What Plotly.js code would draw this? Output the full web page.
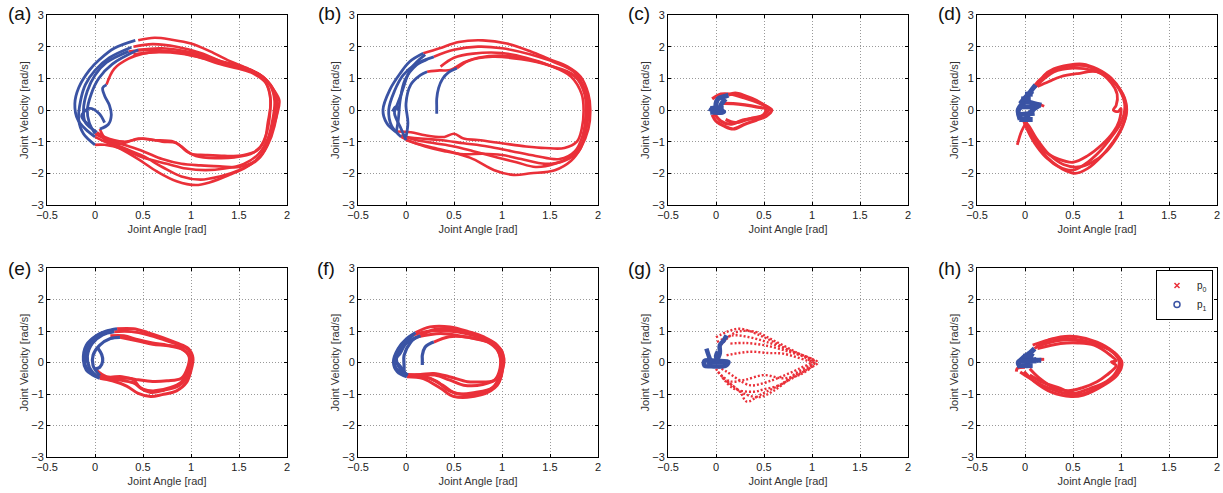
<!DOCTYPE html>
<html><head><meta charset="utf-8">
<script src="https://cdn.plot.ly/plotly-3.0.1.min.js"></script>
<style>html,body{margin:0;padding:0;background:#fff}#chart{width:1223px;height:493px}</style>
</head><body><div id="chart"></div>
<script>
// ---- data: [joint angle (rad), joint velocity (rad/s)] points, null separates cycles ----
const panelLabels = ["(a)","(b)","(c)","(d)","(e)","(f)","(g)","(h)"];
const xTicks = [-0.5,0,0.5,1,1.5,2];
const yTicks = [-3,-2,-1,0,1,2,3];
const seriesNames = ["p<sub>0</sub>","p<sub>1</sub>"];

const a_p0 = [[0.45,2.2],[0.62,2.28],[0.8,2.22],[1.0,2.1],[1.2,1.85],[1.4,1.55],[1.6,1.3],[1.75,1.05],[1.87,0.6],[1.92,0.3],[1.9,-0.1],[1.85,-0.6],[1.8,-1.0],[1.72,-1.45],[1.58,-1.8],[1.4,-2.05],[1.2,-2.28],[1.05,-2.37],[0.85,-2.25],[0.65,-1.95],[0.45,-1.55],[0.25,-1.2],[0.1,-1.0],[0.0,-0.85],null,
 [0.4,2.0],[0.6,2.08],[0.85,2.0],[1.1,1.8],[1.35,1.5],[1.55,1.32],[1.7,1.15],[1.82,0.8],[1.87,0.3],[1.85,-0.3],[1.8,-0.9],[1.7,-1.4],[1.55,-1.7],[1.35,-1.85],[1.15,-1.9],[0.95,-1.85],[0.75,-1.7],[0.5,-1.5],[0.3,-1.25],[0.1,-1.1],[0.0,-1.1],null,
 [0.35,1.85],[0.55,1.9],[0.8,1.85],[1.05,1.7],[1.3,1.45],[1.5,1.3],[1.65,1.15],[1.78,0.85],[1.83,0.3],[1.8,-0.4],[1.76,-1.0],[1.65,-1.35],[1.45,-1.5],[1.25,-1.52],[1.05,-1.45],[0.95,-1.3],[0.85,-1.05],[0.7,-1.0],[0.5,-0.9],[0.3,-1.0],[0.1,-0.85],[0.02,-0.7],null,
 [0.12,0.8],[0.2,1.3],[0.35,1.62],[0.5,1.78],[0.7,1.85],[0.95,1.8],[1.2,1.6],[1.45,1.4],[1.65,1.22],[1.8,0.9],[1.88,0.4],[1.87,-0.2],[1.83,-0.7],[1.78,-1.2],[1.68,-1.6],[1.5,-1.9],[1.3,-2.1],[1.1,-2.2],[0.9,-2.1],[0.7,-1.8],[0.5,-1.45],[0.3,-1.2],[0.12,-0.95],[0.05,-0.6],null,
 [0.45,1.9],[0.7,1.95],[1.0,1.82],[1.3,1.55],[1.55,1.35],[1.72,1.1],[1.85,0.7],[1.9,0.2],[1.87,-0.5],[1.8,-1.1],[1.7,-1.55],[1.5,-1.8],[1.3,-1.78],[1.1,-1.75],[0.9,-1.7],[0.7,-1.55],[0.5,-1.3],[0.3,-1.1],[0.1,-0.9],[0.0,-0.75],null,
 [0.4,1.75],[0.6,1.82],[0.9,1.78],[1.15,1.62],[1.4,1.42],[1.6,1.28],[1.75,1.0],[1.82,0.5],[1.82,-0.2],[1.78,-0.8],[1.7,-1.25],[1.55,-1.42],[1.35,-1.45],[1.15,-1.42],[1.0,-1.38],[0.9,-1.15],[0.82,-1.0],[0.6,-0.95],[0.45,-0.9],[0.3,-1.05],[0.15,-1.05],[0.05,-0.75]];
const a_p1 = [[0.0,-0.85],[-0.1,-0.6],[-0.18,-0.3],[-0.21,0.2],[-0.17,0.7],[-0.06,1.25],[0.05,1.6],[0.2,1.95],[0.42,2.2],null,
 [0.0,-1.1],[-0.12,-0.75],[-0.17,-0.3],[-0.15,0.3],[-0.1,0.8],[0.0,1.25],[0.15,1.65],[0.38,1.98],null,
 [0.02,-0.7],[-0.1,-0.4],[-0.12,0.0],[-0.08,0.6],[0.0,1.1],[0.12,1.5],[0.35,1.85],null,
 [0.0,-0.75],[-0.06,-0.4],[-0.08,0.0],[-0.04,0.5],[0.04,1.0],[0.18,1.45],[0.45,1.9],null,
 [0.05,-0.6],[0.14,-0.45],[0.17,-0.15],[0.15,0.15],[0.1,0.45],[0.08,0.7],[0.12,0.8],null,
 [-0.05,-0.5],[-0.14,-0.2],[-0.06,0.05],[0.04,-0.1],[0.1,-0.4]];

const b_p0 = [[0.18,1.79],[0.35,1.95],[0.55,2.15],[0.8,2.2],[1.05,2.1],[1.3,1.85],[1.5,1.6],[1.68,1.38],[1.82,1.05],[1.9,0.5],[1.92,0.0],[1.9,-0.6],[1.82,-1.2],[1.72,-1.6],[1.55,-1.9],[1.3,-2.0],[1.12,-2.05],[0.92,-1.9],[0.7,-1.55],[0.5,-1.35],[0.3,-1.2],[0.1,-1.05],[0.0,-0.95],null,
 [0.29,1.68],[0.5,1.9],[0.75,2.0],[1.0,1.95],[1.3,1.75],[1.55,1.5],[1.75,1.2],[1.87,0.6],[1.9,0.0],[1.87,-0.7],[1.8,-1.3],[1.65,-1.6],[1.45,-1.7],[1.2,-1.55],[1.0,-1.42],[0.8,-1.38],[0.6,-1.4],[0.4,-1.3],[0.2,-1.15],[0.05,-1.0],[-0.05,-0.85],null,
 [0.36,1.37],[0.5,1.65],[0.7,1.78],[1.0,1.8],[1.25,1.65],[1.5,1.4],[1.72,1.05],[1.83,0.5],[1.85,0.0],[1.83,-0.6],[1.78,-1.0],[1.65,-1.2],[1.45,-1.2],[1.25,-1.15],[1.0,-1.05],[0.75,-0.95],[0.6,-0.9],[0.5,-0.75],[0.4,-0.85],[0.2,-0.8],[0.05,-0.7],[-0.1,-0.68],null,
 [0.22,1.21],[0.35,1.25],[0.46,1.26],[0.6,1.5],[0.75,1.65],[1.0,1.72],[1.3,1.58],[1.55,1.35],[1.78,1.0],[1.88,0.4],[1.88,-0.3],[1.85,-0.95],[1.75,-1.4],[1.55,-1.7],[1.35,-1.8],[1.15,-1.65],[0.95,-1.5],[0.7,-1.3],[0.5,-1.15],[0.3,-1.05],[0.1,-0.95],[-0.05,-0.8],null,
 [0.53,1.32],[0.65,1.55],[0.9,1.68],[1.2,1.6],[1.5,1.4],[1.75,1.1],[1.86,0.5],[1.87,-0.2],[1.84,-0.8],[1.76,-1.3],[1.6,-1.55],[1.35,-1.45],[1.1,-1.3],[0.85,-1.15],[0.6,-1.05],[0.35,-0.95],[0.15,-0.9],[0.0,-0.85]];
const b_p1 = [[-0.11,-0.68],[-0.2,-0.42],[-0.24,0.0],[-0.17,0.63],[-0.06,1.16],[0.04,1.53],[0.18,1.79],null,
 [-0.05,-0.85],[-0.15,-0.5],[-0.18,0.0],[-0.12,0.6],[-0.03,1.1],[0.1,1.45],[0.29,1.68],null,
 [-0.1,-0.68],[-0.08,-0.3],[-0.06,0.32],[-0.01,0.95],[0.11,1.42],[0.22,1.6],null,
 [0.0,-0.85],[0.02,-0.4],[0.0,0.2],[0.05,0.8],[0.15,1.1],[0.22,1.21],null,
 [0.0,-0.95],[-0.05,-0.6],[-0.12,-0.1],[-0.1,0.1],[-0.05,0.5],[0.05,1.3],[0.2,1.75],null,
 [-0.14,-0.05],[-0.11,0.1],[-0.08,0.0],null,
 [0.32,-0.12],[0.32,0.1],[0.32,0.35],[0.34,0.7],[0.38,0.98],[0.44,1.18],[0.53,1.32]];

const c_p0 = [[0.13,0.47],[0.2,0.53],[0.3,0.45],[0.42,0.3],[0.52,0.12],[0.58,0.0],[0.52,-0.2],[0.42,-0.32],[0.3,-0.45],[0.18,-0.6],[0.08,-0.5],[0.0,-0.35],[-0.04,-0.15],null,
 [-0.04,0.35],[0.05,0.5],[0.15,0.5],[0.3,0.38],[0.45,0.22],[0.55,0.05],[0.5,-0.15],[0.4,-0.25],[0.28,-0.32],[0.15,-0.45],[0.05,-0.35],[-0.02,-0.1],null,
 [0.08,0.21],[0.18,0.2],[0.3,0.16],[0.42,0.1],[0.52,0.02],[0.48,-0.2],[0.35,-0.28],[0.2,-0.4],[0.1,-0.3]];
const c_p1 = [[-0.06,-0.05],[-0.04,0.05],[0.04,0.0],[0.08,-0.05],[0.02,-0.08],[-0.05,0.0],null,
 [-0.06,0.05],[0.08,0.05],null,
 [-0.06,-0.07],[0.07,-0.07],null,
 [0.0,0.0],[0.0,0.2],[0.02,0.35],[0.08,0.42],[0.13,0.47],null,
 [0.04,0.0],[0.05,0.15],[0.1,0.35]];

const d_p0 = [[0.13,0.74],[0.2,1.1],[0.3,1.3],[0.45,1.42],[0.6,1.45],[0.75,1.3],[0.9,1.0],[1.0,0.6],[1.05,0.2],[1.05,-0.2],[1.0,-0.6],[0.92,-1.0],[0.8,-1.45],[0.65,-1.85],[0.52,-2.0],[0.38,-1.85],[0.22,-1.5],[0.1,-1.05],[0.02,-0.6],[-0.02,-0.3],null,
 [0.06,0.6],[0.15,0.95],[0.3,1.25],[0.45,1.38],[0.62,1.4],[0.78,1.2],[0.92,0.9],[1.02,0.5],[1.06,0.0],[1.02,-0.5],[0.95,-0.9],[0.85,-1.3],[0.7,-1.65],[0.55,-1.8],[0.4,-1.72],[0.25,-1.4],[0.12,-0.9],[0.04,-0.5],[-0.03,-0.25],null,
 [0.13,0.74],[0.25,0.9],[0.37,1.05],[0.55,1.15],[0.75,1.21],[0.9,0.85],[0.96,0.5],[0.95,0.15],[0.92,0.0],[0.97,-0.05],[1.0,0.05],[0.98,-0.35],[0.92,-0.7],[0.8,-1.1],[0.65,-1.45],[0.5,-1.65],[0.35,-1.55],[0.2,-1.3],[0.1,-0.9],[0.0,-0.45],null,
 [0.02,-0.35],[-0.04,-0.7],[-0.08,-1.1],null,
 [0.1,0.7],[0.3,1.2],[0.5,1.32],[0.7,1.25],[0.88,1.0],[1.0,0.55],[1.04,0.1],[1.0,-0.4],[0.9,-0.85],[0.78,-1.3],[0.62,-1.72],[0.5,-1.9],[0.35,-1.78],[0.2,-1.4],[0.08,-0.9],[0.0,-0.4],null,
 [0.13,0.2],[0.2,0.12]];
const d_p1 = [[-0.07,0.0],[0.0,0.3],[0.05,0.55],[0.11,0.79],null,
 [-0.05,-0.3],[-0.07,0.0],[0.0,0.25],[0.1,0.2],[0.17,0.15],null,
 [0.0,-0.3],[0.05,-0.1],[0.1,0.05],[0.15,0.15],null,
 [-0.05,0.2],[0.02,0.45],[0.08,0.6],null,
 [-0.06,-0.3],[0.08,-0.3],null,
 [-0.07,-0.15],[0.1,-0.1],null,
 [-0.06,0.1],[0.1,0.1],null,
 [-0.04,0.35],[0.06,0.35],null,
 [0.0,0.5],[0.08,0.5]];

const e_p0 = [[0.23,1.07],[0.4,1.07],[0.55,0.95],[0.7,0.8],[0.85,0.62],[0.97,0.45],[1.02,0.15],[1.0,-0.25],[0.95,-0.65],[0.85,-0.9],[0.7,-1.02],[0.58,-1.08],[0.45,-0.98],[0.33,-0.75],[0.18,-0.58],[0.05,-0.5],null,
 [0.2,0.98],[0.38,0.98],[0.55,0.88],[0.72,0.72],[0.88,0.55],[0.98,0.38],[1.0,0.1],[0.97,-0.3],[0.9,-0.62],[0.78,-0.8],[0.62,-0.9],[0.5,-0.85],[0.4,-0.65],[0.25,-0.55],[0.1,-0.5],[0.0,-0.4],null,
 [0.16,0.85],[0.3,0.85],[0.45,0.72],[0.6,0.62],[0.75,0.55],[0.9,0.45],[0.98,0.2],[0.96,-0.2],[0.9,-0.5],[0.75,-0.58],[0.6,-0.6],[0.45,-0.55],[0.35,-0.5],[0.2,-0.52],[0.05,-0.42],null,
 [0.26,0.8],[0.45,0.68],[0.6,0.58],[0.78,0.52],[0.92,0.4],[0.99,0.15],[0.97,-0.4],[0.88,-0.72],[0.72,-0.88],[0.58,-0.95],[0.47,-0.8],[0.4,-0.55],[0.28,-0.45],[0.12,-0.45],[0.0,-0.2]];
const e_p1 = [[0.05,-0.5],[-0.02,-0.4],[-0.09,-0.24],[-0.12,0.07],[-0.09,0.55],[0.02,0.86],[0.12,1.0],[0.23,1.07],null,
 [0.0,-0.4],[-0.06,-0.15],[-0.08,0.2],[-0.03,0.6],[0.08,0.88],[0.2,0.98],null,
 [0.02,-0.45],[-0.1,-0.1],[-0.1,0.3],[-0.05,0.65],[0.05,0.9],[0.18,1.02],null,
 [0.05,-0.42],[-0.02,-0.1],[-0.02,0.23],[0.05,0.55],[0.16,0.76],[0.26,0.8],null,
 [0.03,0.45],[0.07,0.25],[0.08,0.05],[0.05,-0.15],[0.0,-0.2]];

const f_p0 = [[0.1,0.95],[0.25,1.13],[0.46,1.13],[0.65,0.98],[0.81,0.81],[0.95,0.55],[1.02,0.13],[1.0,-0.29],[0.95,-0.72],[0.78,-1.03],[0.5,-1.08],[0.36,-0.82],[0.18,-0.51],[0.01,-0.45],null,
 [0.08,0.88],[0.25,1.0],[0.45,1.0],[0.65,0.9],[0.85,0.72],[0.97,0.45],[1.0,0.05],[0.98,-0.4],[0.9,-0.8],[0.72,-0.95],[0.52,-0.98],[0.38,-0.72],[0.2,-0.45],[0.02,-0.4],null,
 [0.11,0.81],[0.36,0.92],[0.55,0.85],[0.71,0.76],[0.92,0.55],[0.98,0.2],[0.97,-0.3],[0.92,-0.56],[0.75,-0.62],[0.64,-0.61],[0.45,-0.45],[0.29,-0.35],[0.15,-0.38],[-0.02,-0.4],null,
 [0.15,0.85],[0.3,1.05],[0.5,1.05],[0.7,0.88],[0.88,0.68],[1.0,0.35],[1.01,-0.1],[0.97,-0.6],[0.85,-0.9],[0.65,-1.02],[0.45,-0.9],[0.32,-0.6],[0.15,-0.42],[0.0,-0.38],null,
 [0.29,0.65],[0.45,0.82],[0.65,0.8],[0.85,0.65],[0.96,0.35],[0.99,-0.1],[0.95,-0.5],[0.8,-0.7],[0.6,-0.72],[0.45,-0.55],[0.3,-0.4],[0.1,-0.4]];
const f_p1 = [[0.01,-0.45],[-0.09,-0.29],[-0.13,0.02],[-0.08,0.44],[0.01,0.76],[0.1,0.95],null,
 [0.02,-0.4],[-0.06,-0.2],[-0.1,0.1],[-0.05,0.45],[0.03,0.75],[0.08,0.88],null,
 [-0.02,-0.4],[-0.02,-0.1],[-0.02,0.23],[0.05,0.65],[0.11,0.81],null,
 [0.0,-0.38],[-0.08,-0.05],[-0.12,0.05],[-0.06,0.3],[0.0,0.6],[0.15,0.85],null,
 [0.0,-0.42],[-0.11,-0.15],[-0.1,0.25],[-0.03,0.6],[0.06,0.85],null,
 [0.17,-0.08],[0.17,0.1],[0.17,0.23],[0.2,0.49],[0.25,0.6],[0.29,0.65]];

const g_p0 = [[0.0,0.8],[0.11,0.97],[0.25,1.07],[0.46,0.86],[0.6,0.65],[0.73,0.44],[0.94,0.18],[1.06,0.0],[0.94,-0.24],[0.73,-0.61],[0.46,-1.03],[0.32,-1.24],[0.25,-0.93],[0.08,-0.51],[0.0,-0.2],null,
 [0.01,0.65],[0.18,0.86],[0.35,0.8],[0.53,0.65],[0.8,0.34],[1.0,0.05],[0.87,-0.19],[0.63,-0.51],[0.5,-0.65],[0.35,-0.72],[0.11,-0.29],[0.0,-0.1],null,
 [0.11,0.23],[0.35,0.34],[0.55,0.3],[0.7,0.28],[0.94,0.07],[1.02,0.0],[0.85,-0.3],[0.66,-0.72],[0.5,-0.85],[0.39,-0.93],[0.18,-0.82],[0.05,-0.4],null,
 [0.05,0.55],[0.2,0.95],[0.4,0.98],[0.6,0.7],[0.85,0.3],[1.03,0.02],[0.9,-0.35],[0.7,-0.5],[0.5,-0.4],[0.3,-0.55],[0.15,-0.6],[0.02,-0.3],null,
 [0.15,0.6],[0.3,0.62],[0.5,0.55],[0.75,0.35],[0.95,0.12],[1.0,-0.05],[0.8,-0.45],[0.6,-0.9],[0.45,-1.1],[0.3,-1.0],[0.2,-0.8],[0.1,-0.55]];
const g_p1 = [[-0.12,-0.1],[-0.12,0.05],[0.0,0.05],[0.13,0.02],[0.1,-0.1],[-0.05,-0.12],[-0.12,-0.1],null,
 [-0.1,0.0],[0.1,0.0],null,
 [0.0,0.0],[0.04,0.3],[0.04,0.55],[0.08,0.7],[0.11,0.86],null,
 [-0.05,0.0],[-0.08,0.25],[-0.1,0.44],null,
 [0.02,0.0],[0.0,0.2],[0.02,0.35]];

const h_p0 = [[0.1,0.44],[0.2,0.65],[0.37,0.81],[0.54,0.82],[0.75,0.65],[0.92,0.34],[1.01,0.0],[0.96,-0.4],[0.82,-0.72],[0.61,-1.03],[0.48,-1.08],[0.27,-0.93],[0.1,-0.61],[-0.01,-0.29],null,
 [0.13,0.44],[0.37,0.6],[0.55,0.62],[0.72,0.55],[0.89,0.23],[0.95,0.05],[0.9,0.02],[0.95,-0.1],[0.85,-0.4],[0.75,-0.61],[0.6,-0.8],[0.45,-0.9],[0.3,-0.8],[0.15,-0.5],[0.05,-0.2],null,
 [0.08,0.55],[0.3,0.75],[0.5,0.75],[0.7,0.62],[0.88,0.4],[0.98,0.05],[0.95,-0.3],[0.85,-0.6],[0.68,-0.82],[0.5,-0.98],[0.37,-0.82],[0.2,-0.65],[0.05,-0.4],null,
 [0.12,0.5],[0.35,0.7],[0.55,0.7],[0.78,0.55],[0.95,0.25],[1.0,-0.05],[0.92,-0.45],[0.72,-0.85],[0.55,-1.02],[0.38,-0.95],[0.2,-0.75],[0.05,-0.5],[-0.05,-0.3],null,
 [0.0,-0.15],[-0.08,-0.19],[-0.09,-0.29],null,
 [0.15,0.1],[0.2,0.1]];
const h_p1 = [[-0.07,0.0],[0.0,0.2],[0.05,0.3],[0.1,0.44],null,
 [-0.05,-0.15],[-0.07,0.0],[0.02,0.1],[0.1,0.08],[0.17,0.07],null,
 [0.0,-0.15],[0.03,0.0],[0.05,0.15],[0.08,0.3],null,
 [-0.03,0.05],[0.05,0.05],[0.12,0.1],null,
 [-0.06,-0.1],[0.08,-0.1],null,
 [-0.06,0.05],[0.12,0.05],null,
 [-0.02,0.2],[0.08,0.2]];

const panelP0 = [a_p0,b_p0,c_p0,d_p0,e_p0,f_p0,g_p0,h_p0];
const panelP1 = [a_p1,b_p1,c_p1,d_p1,e_p1,f_p1,g_p1,h_p1];

// ---- styling / layout ----
const RED = '#ea3039', BLUE = '#3a53a4';
const W = 1223, H = 493;
const colPx = [[47,287],[358,598],[668,908],[977,1217]];
const rowPx = [[15,205],[268,457]];
const labelPx = [[19,14],[329,14],[639,14],[949,14],[19,268],[326,268],[639,268],[949,268]];
const redW  = [2.6,2.6,3.2,2.8,3.0,3.0,2.4,3.0];
const blueW = [2.8,2.8,5.0,5.0,3.2,3.2,4.5,5.0];

function xs(pts){return pts.map(p=>p?p[0]:null);}
function ys(pts){return pts.map(p=>p?p[1]:null);}

const traces = [];
const layout = {
  width: W, height: H, margin:{l:0,r:0,t:0,b:0},
  paper_bgcolor:'#fff', plot_bgcolor:'#fff', showlegend:true,
  font:{family:'Liberation Sans, Arial, sans-serif', color:'#222'},
  annotations:[],
  legend:{x:1213/W, xanchor:'right', y:1-270/H, yanchor:'top', bgcolor:'#fff',
          bordercolor:'#000', borderwidth:1, font:{size:10,color:'#222'}, itemwidth:30, tracegroupgap:0}
};
const axFont = {family:'Liberation Sans, Arial, sans-serif', size:11, color:'#222'};
for (let i=0;i<8;i++){
  const r = Math.floor(i/4), c = i%4, n = i+1;
  const xa = 'x'+(n===1?'':n), ya = 'y'+(n===1?'':n);
  traces.push({x:xs(panelP0[i]), y:ys(panelP0[i]), xaxis:xa, yaxis:ya, type:'scatter', mode:'lines',
    line:{color:RED, width:redW[i], shape:'spline', smoothing:1, dash:(i===6?'2px,2px':'solid')}, showlegend:false, hoverinfo:'skip'});
  traces.push({x:xs(panelP1[i]), y:ys(panelP1[i]), xaxis:xa, yaxis:ya, type:'scatter', mode:'lines',
    line:{color:BLUE, width:blueW[i], shape:'spline', smoothing:1}, showlegend:false, hoverinfo:'skip'});
  const common = {showline:true, mirror:'ticks', linecolor:'#000', linewidth:1, ticks:'inside', ticklen:3,
    tickcolor:'#000', showgrid:true, gridcolor:'#999', griddash:'1px,2px', gridwidth:1, zeroline:false,
    tickfont:axFont, fixedrange:true};
  layout['xaxis'+(n===1?'':n)] = Object.assign({}, common, {
    domain:[colPx[c][0]/W, colPx[c][1]/W], anchor:ya, range:[-0.5,2], tickvals:xTicks,
    title:{text:'Joint Angle [rad]', font:{size:11,color:'#333'}, standoff:5}});
  layout['yaxis'+(n===1?'':n)] = Object.assign({}, common, {
    domain:[1-rowPx[r][1]/H, 1-rowPx[r][0]/H], anchor:xa, range:[-3,3], tickvals:yTicks,
    title:{text:'Joint Velocity [rad/s]', font:{size:11,color:'#333'}, standoff:0}});
  layout.annotations.push({text:panelLabels[i], xref:'paper', yref:'paper', x:labelPx[i][0]/W, y:1-labelPx[i][1]/H,
    xanchor:'center', yanchor:'middle', showarrow:false, font:{size:19,color:'#111',family:'Liberation Sans, Arial, sans-serif'}});
}
traces.push({x:[null], y:[null], xaxis:'x8', yaxis:'y8', type:'scatter', mode:'markers', name:seriesNames[0],
  marker:{symbol:'x-thin', size:5, color:RED, line:{color:RED, width:1.5}}});
traces.push({x:[null], y:[null], xaxis:'x8', yaxis:'y8', type:'scatter', mode:'markers', name:seriesNames[1],
  marker:{symbol:'circle-open', size:6, color:BLUE, line:{color:BLUE, width:1.5}}});

Plotly.newPlot('chart', traces, layout, {staticPlot:true, displayModeBar:false});
</script></body></html>
